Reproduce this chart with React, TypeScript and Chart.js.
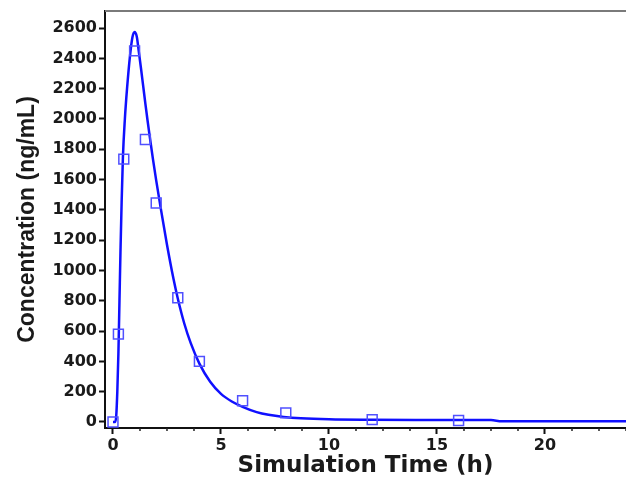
import React, { useEffect, useRef } from "react";
import { Chart, registerables } from "chart.js";

Chart.register(...registerables);

// Simulated concentration curve (time in h, concentration in ng/mL)
const curveT = [0, 0.1, 0.15, 0.2, 0.25, 0.3, 0.35, 0.4, 0.46, 0.55, 0.65, 0.79, 0.9, 1.0, 1.1, 1.2, 1.3, 1.4, 1.5, 1.6, 1.7, 1.85, 2.0, 2.2, 2.5, 2.8, 3.0, 3.3, 3.6, 4.0, 4.5, 5.0, 5.5, 6.0, 6.65, 7.2, 7.9, 8.7, 10.0, 12.0, 14.0, 17.5, 18.0, 24.0];
const curveC = [0, 0, 40, 200, 450, 800, 1150, 1450, 1750, 2000, 2200, 2420, 2540, 2575, 2545, 2440, 2330, 2215, 2100, 1990, 1885, 1735, 1595, 1420, 1170, 945, 815, 650, 520, 385, 265, 185, 135, 100, 65, 47, 33, 24, 17, 14, 13, 12, 5, 4];

// Observed data
const obsT = [0, 0.25, 0.5, 1, 1.5, 2, 3, 4, 6, 8, 12, 16];
const obsC = [0, 580, 1735, 2450, 1865, 1445, 820, 400, 140, 60, 15, 10];

const xTicks = [0, 5, 10, 15, 20];
const xMinorTicks = [1.25, 2.5, 3.75, 6.25, 7.5, 8.75, 11.25, 12.5, 13.75, 16.25, 17.5, 18.75, 21.25, 22.5, 23.75];
const yTicks = [0, 200, 400, 600, 800, 1000, 1200, 1400, 1600, 1800, 2000, 2200, 2400, 2600];

const extras = {
  id: "extras",
  afterDraw(chart: any) {
    const { ctx, chartArea, scales } = chart;
    ctx.save();
    ctx.strokeStyle = "#7a7a7a";
    ctx.lineWidth = 2;
    ctx.beginPath();
    ctx.moveTo(chartArea.left, chartArea.top);
    ctx.lineTo(chartArea.right, chartArea.top);
    ctx.stroke();
    ctx.strokeStyle = "#222";
    ctx.lineWidth = 1.5;
    for (const v of xMinorTicks) {
      const px = scales.x.getPixelForValue(v);
      ctx.beginPath();
      ctx.moveTo(px, chartArea.bottom);
      ctx.lineTo(px, chartArea.bottom + 3);
      ctx.stroke();
    }
    ctx.restore();
  },
};

export default function App() {
  const ref = useRef<HTMLCanvasElement | null>(null);
  useEffect(() => {
    document.body.style.margin = "0";
    const tickFont = { family: "'DejaVu Sans', sans-serif", weight: "bold" as const, size: 16 };
    const chart = new Chart(ref.current!, {
      type: "scatter",
      data: {
        datasets: [
          {
            label: "Simulated",
            data: curveT.map((t, i) => ({ x: t, y: curveC[i] })),
            showLine: true,
            borderColor: "#1010ff",
            borderWidth: 2.5,
            pointRadius: 0,
            cubicInterpolationMode: "monotone",
            order: 2,
          },
          {
            label: "Observed",
            data: obsT.map((t, i) => ({ x: t, y: obsC[i] })),
            showLine: false,
            pointStyle: "rect",
            pointRadius: 7,
            borderColor: "#5050ff",
            backgroundColor: "rgba(0,0,0,0)",
            borderWidth: 1.5,
            order: 1,
          },
        ],
      },
      options: {
        animation: false,
        responsive: false,
        layout: { autoPadding: false, padding: { top: 11, right: 0, left: 0, bottom: 0 } },
        plugins: { legend: { display: false }, tooltip: { enabled: false } },
        scales: {
          x: {
            type: "linear",
            min: -0.37,
            max: 23.75,
            afterBuildTicks: (s: any) => {
              s.ticks = xTicks.map((v) => ({ value: v }));
            },
            afterFit: (s: any) => {
              s.height = 54;
              s.paddingRight = 0;
              s.paddingLeft = 0;
            },
            border: { color: "#111", width: 2 },
            grid: { drawOnChartArea: false, tickLength: 6, tickColor: "#111", tickWidth: 2 },
            ticks: {
              color: "#1a1a1a",
              font: tickFont,
              padding: 2,
              maxRotation: 0,
              callback: (v: any) => String(v),
            },
            title: {
              display: true,
              text: "Simulation Time (h)",
              color: "#1a1a1a",
              font: { family: "'DejaVu Sans', sans-serif", weight: "bold", size: 23 },
              padding: { top: 0, bottom: 2 },
            },
          },
          y: {
            type: "linear",
            min: -40,
            max: 2713,
            afterBuildTicks: (s: any) => {
              s.ticks = yTicks.map((v) => ({ value: v }));
            },
            afterFit: (s: any) => {
              s.width = 105;
              s.paddingTop = 0;
              s.paddingBottom = 0;
            },
            border: { color: "#111", width: 2 },
            grid: { drawOnChartArea: false, tickLength: 6, tickColor: "#111", tickWidth: 2 },
            ticks: {
              color: "#1a1a1a",
              font: tickFont,
              padding: 2,
              callback: (v: any) => String(v),
            },
            title: {
              display: true,
              text: "Concentration (ng/mL)",
              color: "#1a1a1a",
              font: { family: "'Liberation Sans', Arial, sans-serif", weight: "bold", size: 23 },
              padding: { top: 14, bottom: 0 },
            },
          },
        },
      },
      plugins: [extras],
    });
    return () => chart.destroy();
  }, []);
  return <canvas ref={ref} width={626} height={482} style={{ display: "block" }} />;
}
